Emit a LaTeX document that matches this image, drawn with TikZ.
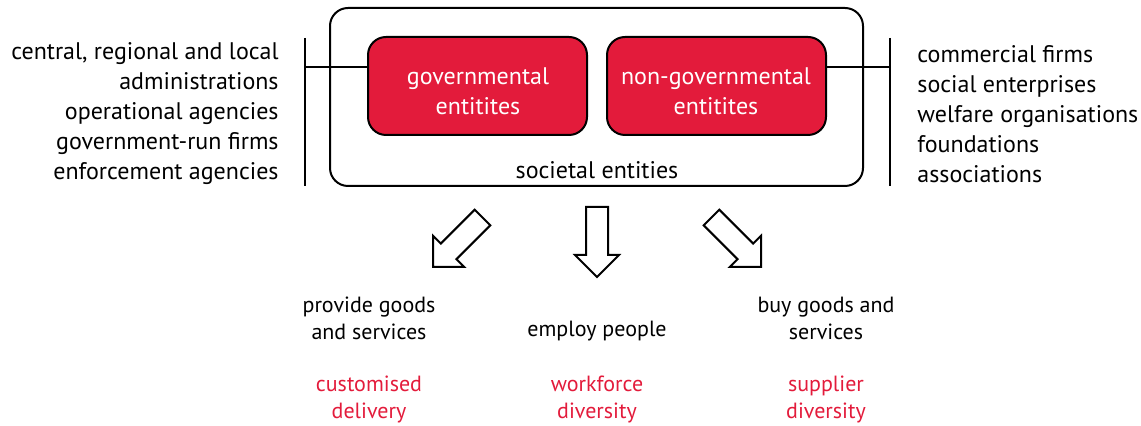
\documentclass[tikz,border=0pt]{standalone}
\usepackage{fontspec}
\setmainfont{PT Sans}
\definecolor{pred}{HTML}{E31B3B}
\begin{document}
\begin{tikzpicture}[x=0.5pt,y=-0.5pt,
  txt/.style={font=\fontsize{12}{15}\selectfont, inner sep=0pt, align=center},
  btxt/.style={font=\fontsize{11}{13.5}\selectfont, inner sep=0pt, align=center},
  redbox/.style={draw=black, line width=1pt, fill=pred, rounded corners=9pt},
  ln/.style={line width=1pt},
  arr/.style={draw=black, line width=1pt, fill=white, line join=miter}]
\useasboundingbox (0,0) rectangle (1141,426);
% outer box
\draw[ln, rounded corners=9pt] (330,8) rectangle (863,186);
\node[txt] (soc) at (597,170) {societal entities};
% red boxes
\draw[redbox] (368,37) rectangle (587,135);
\draw[redbox] (607,37) rectangle (826,135);
\node[txt, text=white] (gov) at (478,91) {governmental\\entitites};
\node[txt, text=white] (ngov) at (716,91) {non-governmental\\entitites};
% brackets
\coordinate (lt) at (305,38); \coordinate (lb) at (305,186);
\coordinate (rt) at (890,38); \coordinate (rb) at (890,186);
\draw[ln] (lt) -- (lb);
\draw[ln] (rt) -- (rb);
\draw[ln] (305,67) -- (368,67);
\draw[ln] (826,67) -- (890,67);
% side lists
\node[txt, align=right, anchor=east] (ll) at (279,114) {central, regional and local\\administrations\\operational agencies\\government-run firms\\enforcement agencies};
\node[txt, align=left, anchor=west] (rl) at (917,114) {commercial firms\\social enterprises\\welfare organisations\\foundations\\associations};
% arrows
\draw[arr] (474.7,209.7) -- (490.3,225.3) -- (456.4,259.2) -- (464.2,267) -- (433,267) -- (433,235.8) -- (440.8,243.6) -- cycle;
\draw[arr] (586,207) -- (608,207) -- (608,255) -- (619,255) -- (597,277) -- (575,255) -- (586,255) -- cycle;
\draw[arr] (719.3,209.7) -- (703.7,225.3) -- (737.6,259.2) -- (729.8,267) -- (761,267) -- (761,235.8) -- (753.2,243.6) -- cycle;
% bottom texts
\node[btxt] (t1) at (369,318) {provide goods\\and services};
\node[btxt] (t2) at (597,331) {employ people};
\node[btxt] (t3) at (826,318) {buy goods and\\services};
\node[btxt, text=pred] (r1) at (369,399) {customised\\delivery};
\node[btxt, text=pred] (r2) at (597,399) {workforce\\diversity};
\node[btxt, text=pred] (r3) at (826,399) {supplier\\diversity};
\end{tikzpicture}
\end{document}
